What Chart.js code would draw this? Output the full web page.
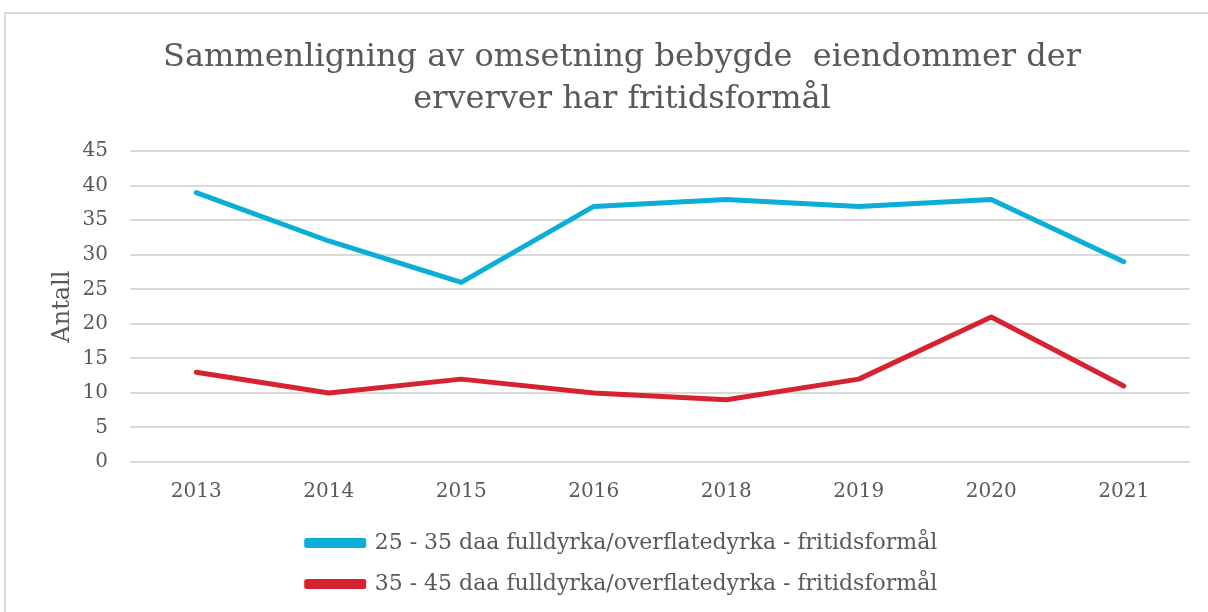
<!DOCTYPE html>
<html>
<head>
<meta charset="utf-8">
<script src="https://cdn.jsdelivr.net/npm/chart.js@4.4.1/dist/chart.umd.min.js"></script>
<style>
    html, body { margin: 0; padding: 0; background: #ffffff; overflow: hidden; }
    #ramme {
        position: absolute; left: 4px; top: 12px; width: 1220px; height: 620px;
        border: 2px solid #d9d9d9; box-sizing: border-box;
    }
    #boks { position: absolute; left: 0; top: 0; width: 1208px; height: 612px; }
</style>
</head>
<body>
<div id="ramme"></div>
<div id="boks"><canvas id="chart-omsetning"></canvas></div>
<script>
// Data lest av figuren
const aar = ['2013', '2014', '2015', '2016', '2018', '2019', '2020', '2021'];
const serie25til35 = [39, 32, 26, 37, 38, 37, 38, 29];
const serie35til45 = [13, 10, 12, 10, 9, 12, 21, 11];
const navn25til35 = '25 - 35 daa fulldyrka/overflatedyrka - fritidsformål';
const navn35til45 = '35 - 45 daa fulldyrka/overflatedyrka - fritidsformål';
const tittel = ['Sammenligning av omsetning bebygde  eiendommer der', 'erverver har fritidsformål'];

const farger = {
    blaa: '#0aaed6',
    roed: '#d7232f',
    tekst: '#595959',
    grid: '#d9d9d9'
};

const serif = "'DejaVu Serif', 'Liberation Serif', serif";

new Chart(document.getElementById('chart-omsetning'), {
    type: 'line',
    data: {
        labels: aar,
        datasets: [{
            label: navn25til35,
            data: serie25til35,
            borderColor: farger.blaa,
            backgroundColor: farger.blaa,
            borderWidth: 5,
            borderCapStyle: 'round',
            borderJoinStyle: 'round',
            pointRadius: 0,
            tension: 0
        }, {
            label: navn35til45,
            data: serie35til45,
            borderColor: farger.roed,
            backgroundColor: farger.roed,
            borderWidth: 5,
            borderCapStyle: 'round',
            borderJoinStyle: 'round',
            pointRadius: 0,
            tension: 0
        }]
    },
    options: {
        responsive: true,
        maintainAspectRatio: false,
        animation: false,
        layout: { padding: { left: 54, right: 18, top: 0, bottom: 7 } },
        plugins: {
            title: {
                display: true,
                text: tittel,
                color: farger.tekst,
                font: { family: serif, size: 32, weight: 'normal', lineHeight: 1.3 },
                padding: { top: 37, bottom: 31 }
            },
            legend: {
                position: 'bottom',
                labels: {
                    color: farger.tekst,
                    font: { family: serif, size: 22 },
                    boxWidth: 57,
                    boxHeight: 5,
                    padding: 19
                }
            },
            tooltip: { enabled: false }
        },
        scales: {
            x: {
                offset: true,
                grid: { display: false, drawTicks: false },
                border: { display: false },
                ticks: { color: farger.tekst, font: { family: serif, size: 20 }, padding: 18 },
                afterFit(scale) { scale.height = 51; }
            },
            y: {
                min: 0,
                max: 45,
                ticks: { stepSize: 5, color: farger.tekst, font: { family: serif, size: 20 }, padding: 22 },
                grid: { color: farger.grid, lineWidth: 2, drawTicks: false },
                border: { display: false },
                title: {
                    display: true,
                    text: 'Antall',
                    color: farger.tekst,
                    font: { family: serif, size: 24 },
                    padding: { top: -6, bottom: 0 }
                },
                afterFit(scale) { scale.width = 76; }
            }
        }
    }
});
</script>
</body>
</html>
